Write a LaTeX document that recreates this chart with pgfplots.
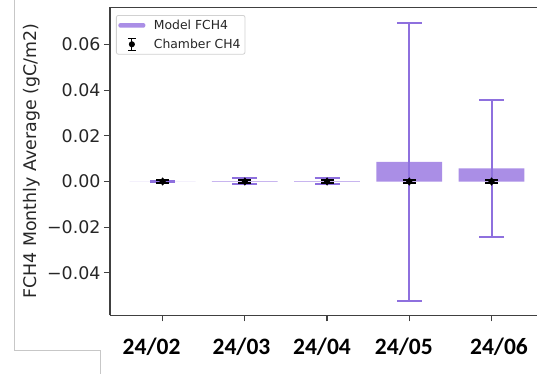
\documentclass[border=0pt]{standalone}
\usepackage{fontspec}
\setmainfont{DejaVu Sans}
\newfontfamily\labelfont{Carlito}
\usepackage{pgfplots}
\pgfplotsset{compat=1.18}

\definecolor{barpurple}{RGB}{170,142,230}
\definecolor{errpurple}{RGB}{142,112,222}
\definecolor{spine}{RGB}{64,64,64}

\begin{document}
\begin{tikzpicture}
\useasboundingbox (0,0) rectangle (537bp,-374bp);
% window frame lines
\draw[black!22, line width=0.8bp] (14bp,0bp) -- (14bp,-350bp) -- (100bp,-350bp) -- (100bp,-374bp);
\begin{axis}[
  at={(110bp,-315.3bp)}, anchor=south west,
  scale only axis, width=427bp, height=308bp,
  xmin=-0.64, xmax=4.553, ymin=-0.0586, ymax=0.0763,
  axis y line*=left,
  axis line style={spine, line width=1.2bp},
  every tick/.style={spine, line width=1.2bp},
  tick align=outside, major tick length=6bp,
  xtick pos=bottom, xticklabel pos=bottom,
  xtick={0,1,2,3,4}, xticklabels={,,,,},
  ytick={-0.04,-0.02,0,0.02,0.04,0.06},
  yticklabels={−0.04,−0.02,0.00,0.02,0.04,0.06},
  yticklabel style={font=\fontsize{17.4bp}{20bp}\selectfont, text=black!85},
  extra x ticks={-0.134,0.959,1.938,2.933,4.091},
  extra x tick labels={24/02,24/03,24/04,24/05,24/06},
  extra x tick style={major tick length=0pt,
    xticklabel style={font=\labelfont\bfseries\fontsize{23.5bp}{27bp}\selectfont, anchor=base, yshift=-39bp}},
  ylabel={FCH4 Monthly Average (gC/m2)},
  ylabel style={at={(axis description cs:-0.1733,0.5)}, anchor=base, rotate=0,
    font=\fontsize{17.4bp}{20bp}\selectfont, text=black!85},
  legend cell align=left,
  legend style={at={(rel axis cs:0.014,0.975)}, anchor=north west,
    draw=black!18, line width=0.8bp, rounded corners=2bp,
    font=\fontsize{12.4bp}{14bp}\selectfont,
    inner xsep=2bp, inner ysep=2bp, row sep=3bp, column sep=6bp,
    nodes={inner sep=2.5bp, text=black!85}},
]
% modelled monthly flux with spread
\addplot[ybar, bar width=0.8, fill=barpurple, draw=none,
  legend image code/.code={\fill[barpurple] (0bp,-2.3bp) rectangle (27bp,2.3bp);},
  error bars/.cd, y dir=both, y explicit,
  error bar style={draw=errpurple, line width=2bp, solid},
  error mark options={rotate=90, draw=errpurple, mark size=12.5bp, line width=2bp}]
  coordinates {
    (0,0.0000) +- (0,0.0003)
    (1,0.0002) +- (0,0.0015)
    (2,0.0002) +- (0,0.0015)
    (3,0.0086) +- (0,0.0610)
    (4,0.0058) +- (0,0.0300)
  };
\addlegendentry{Model FCH4}
% chamber measurements
\addplot[only marks, mark=diamond*, mark size=3.8bp, black,
  legend image code/.code={
    \draw[black, line width=1.2bp] (13.5bp,-6bp) -- (13.5bp,6bp);
    \draw[black, line width=1.2bp] (9.5bp,-6bp) -- (17.5bp,-6bp);
    \draw[black, line width=1.2bp] (9.5bp,6bp) -- (17.5bp,6bp);
    \fill[black] (13.5bp,0bp) circle (2.6bp);},
  error bars/.cd, y dir=both, y explicit,
  error bar style={draw=black, line width=1.2bp, solid},
  error mark options={rotate=90, draw=black, mark size=6.5bp, line width=1.5bp}]
  coordinates {
    (0,0.0000) +- (0,0.0007)
    (1,0.0000) +- (0,0.0007)
    (2,0.0000) +- (0,0.0007)
    (3,0.0000) +- (0,0.0007)
    (4,0.0000) +- (0,0.0007)
  };
\addlegendentry{Chamber CH4}
\end{axis}
\end{tikzpicture}
\end{document}
